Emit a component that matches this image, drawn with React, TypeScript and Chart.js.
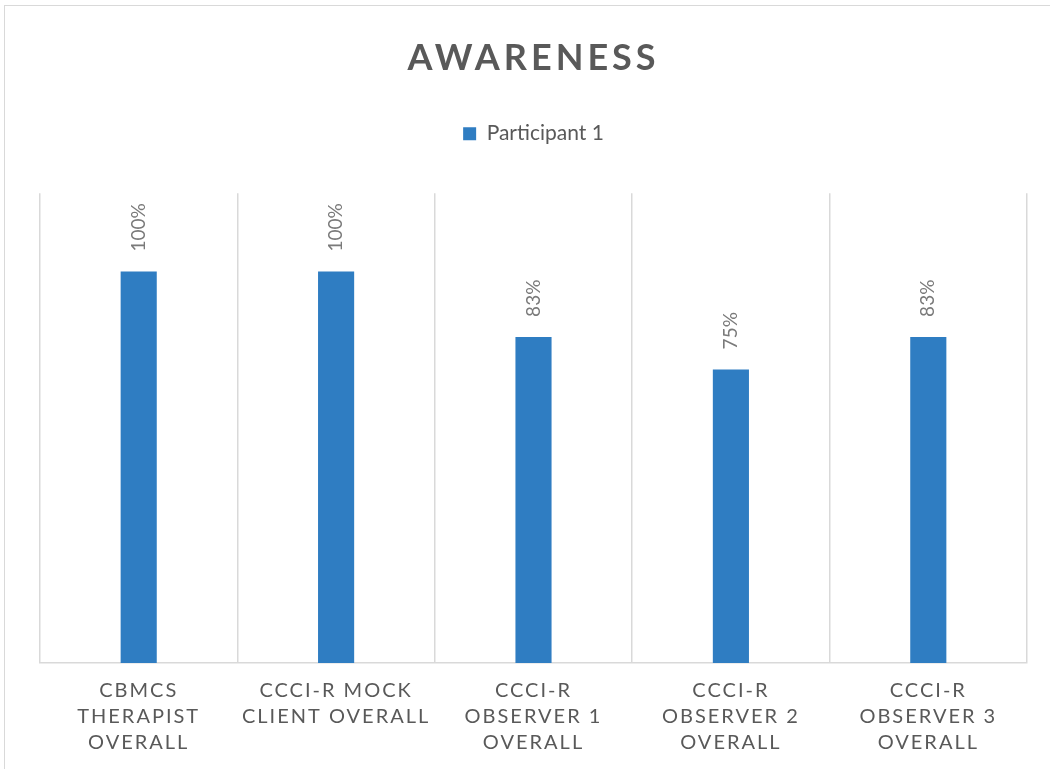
import React, { useEffect, useRef } from "react";
import { Chart, registerables } from "chart.js";

Chart.register(...registerables);

const chartTitle = "AWARENESS";
const seriesName = "Participant 1";
const categories: string[][] = [
  ["CBMCS", "THERAPIST", "OVERALL"],
  ["CCCI-R MOCK", "CLIENT OVERALL"],
  ["CCCI-R", "OBSERVER 1", "OVERALL"],
  ["CCCI-R", "OBSERVER 2", "OVERALL"],
  ["CCCI-R", "OBSERVER 3", "OVERALL"],
];
const values: number[] = [100, 100, 83.3, 75, 83.3];
const yMin = 0;
const yMax = 120;

const BAR_COLOR = "#2F7DC2";
const TEXT_DARK = "#595959";
const TEXT_LABEL = "#7a7a7a";
const GRID = "#d9d9d9";
const FONT = "Lato, 'Noto Sans', sans-serif";

const spacedTitle = new Set<string>([chartTitle]);
const spacedTicks = new Set<string>(categories.flat());

const letterSpacingPlugin = {
  id: "letterSpacing",
  beforeInit(chart: any) {
    const ctx: any = chart.ctx;
    const orig = ctx.fillText.bind(ctx);
    ctx.fillText = (text: string, x: number, y: number, mw?: number) => {
      let sp: string | null = null;
      if (spacedTitle.has(text)) sp = "4px";
      else if (spacedTicks.has(text)) sp = "2px";
      if (sp) {
        const prev = ctx.letterSpacing;
        ctx.letterSpacing = sp;
        if (mw === undefined) orig(text, x, y);
        else orig(text, x, y, mw);
        ctx.letterSpacing = prev;
      } else {
        if (mw === undefined) orig(text, x, y);
        else orig(text, x, y, mw);
      }
    };
  },
};

const dataLabelPlugin = {
  id: "dataLabels",
  afterDatasetsDraw(chart: any) {
    const ctx = chart.ctx;
    chart.data.datasets.forEach((ds: any, di: number) => {
      const meta = chart.getDatasetMeta(di);
      meta.data.forEach((bar: any, i: number) => {
        const v = ds.data[i] as number;
        ctx.save();
        ctx.translate(bar.x, bar.y - 20);
        ctx.rotate(-Math.PI / 2);
        ctx.font = `19px ${FONT}`;
        ctx.fillStyle = TEXT_LABEL;
        ctx.textAlign = "left";
        ctx.textBaseline = "middle";
        ctx.fillText(`${Math.round(v)}%`, 0, 0);
        ctx.restore();
      });
    });
  },
};

export default function App() {
  const ref = useRef<HTMLCanvasElement | null>(null);

  useEffect(() => {
    if (!ref.current) return;
    const chart = new Chart(ref.current, {
      type: "bar",
      data: {
        labels: categories,
        datasets: [
          {
            label: seriesName,
            data: values,
            backgroundColor: BAR_COLOR,
            borderWidth: 0,
            categoryPercentage: 1,
            barPercentage: 0.183,
          },
        ],
      },
      options: {
        animation: false,
        responsive: false,
        maintainAspectRatio: false,
        layout: { padding: { left: 40, right: 23, top: 0, bottom: -2 } },
        plugins: {
          title: {
            display: true,
            text: chartTitle,
            color: TEXT_DARK,
            font: { family: FONT, size: 36, weight: "bold", lineHeight: 1.2 },
            padding: { top: 37, bottom: 33 },
          },
          legend: {
            display: true,
            position: "top",
            labels: {
              color: TEXT_DARK,
              font: { family: FONT, size: 21 },
              boxWidth: 13,
              boxHeight: 13,
              padding: 10,
            },
          },
          subtitle: {
            display: true,
            text: "",
            weight: 500,
            font: { size: 10, lineHeight: 1 },
            padding: { top: 14, bottom: 15 },
          } as any,
          tooltip: { enabled: false },
        },
        scales: {
          x: {
            grid: {
              display: true,
              color: GRID,
              lineWidth: 1.5,
              drawTicks: false,
              offset: true,
            },
            border: { display: true, color: GRID, width: 1.5 },
            ticks: {
              color: TEXT_DARK,
              font: { family: FONT, size: 20, lineHeight: 1.3 },
              padding: 15,
              maxRotation: 0,
              minRotation: 0,
              autoSkip: false,
            },
          },
          y: {
            display: false,
            min: yMin,
            max: yMax,
          },
        },
      },
      plugins: [letterSpacingPlugin, dataLabelPlugin],
    });
    return () => chart.destroy();
  }, []);

  return (
    <div
      style={{
        position: "fixed",
        left: 0,
        top: 0,
        width: 1050,
        height: 769,
        overflow: "hidden",
        background: "#fff",
      }}
    >
      <canvas ref={ref} width={1050} height={769} style={{ display: "block" }} />
      <div
        style={{
          position: "absolute",
          left: 4,
          top: 5,
          width: 1200,
          height: 900,
          border: "1px solid #d9d9d9",
          pointerEvents: "none",
        }}
      />
    </div>
  );
}
